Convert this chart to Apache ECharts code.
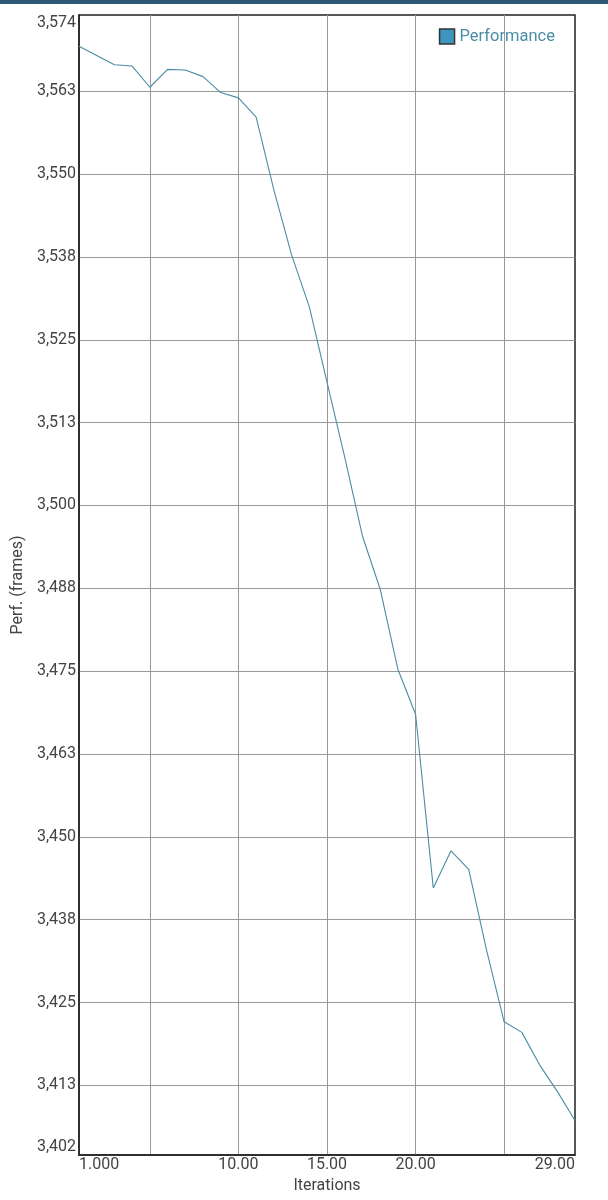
<!DOCTYPE html>
<html lang="en" style="height: 100%">
<head>
  <meta charset="utf-8">
  <style>
    body { margin: 0; background: #fff; }
  </style>
</head>
<body style="height: 100%; margin: 0">
  <div id="container" style="width: 608px; height: 1200px"></div>

  <script type="text/javascript" src="https://cdn.jsdelivr.net/npm/echarts@6/dist/echarts.min.js"></script>
  <script type="text/javascript">
    // values
    var iterations = [1, 2, 3, 4, 5, 6, 7, 8, 9, 10, 11, 12, 13, 14, 15, 16, 17, 18, 19, 20, 21, 22, 23, 24, 25, 26, 27, 28, 29];
    var performance = [3.5693, 3.5679, 3.5665, 3.5663, 3.5631, 3.5658, 3.5657, 3.5647, 3.5623, 3.5615,
      3.5586, 3.5476, 3.5378, 3.5300, 3.5186, 3.5073, 3.4954, 3.4874, 3.4753, 3.4685,
      3.4423, 3.4479, 3.4451, 3.4330, 3.4221, 3.4205, 3.4156, 3.4116, 3.4072];
    var yMin = 3.402, yMax = 3.574;
    var yGridValues = [3.4125, 3.425, 3.4375, 3.45, 3.4625, 3.475, 3.4875, 3.5, 3.5125, 3.525, 3.5375, 3.55, 3.5625];
    var yLabelValues = [3.402].concat(yGridValues, [3.574]);
    var xGridValues = [5, 10, 15, 20, 25];
    var xLabelValues = [1, 10, 15, 20, 29];

    var dom = document.getElementById('container');
    var myChart = echarts.init(dom, null, { renderer: 'canvas' });

    var font = 'Roboto, sans-serif';

    var option = {
      animation: false,
      backgroundColor: '#fff',
      graphic: [{
        type: 'rect',
        left: 0, top: 0,
        shape: { width: 608, height: 4 },
        style: { fill: '#2d5876' }
      }],
      grid: {
        left: 79, right: 33, top: 15, bottom: 45,
        show: true,
        borderColor: '#222',
        borderWidth: 1.5
      },
      legend: {
        right: 48, top: 23,
        icon: 'rect',
        itemWidth: 15, itemHeight: 15,
        itemGap: 6,
        itemStyle: { borderColor: '#333', borderWidth: 1.5 },
        textStyle: { color: '#4a8ea6', fontFamily: font, fontSize: 16.5 },
        data: ['Performance']
      },
      xAxis: {
        type: 'value',
        min: 1, max: 29,
        name: 'Iterations',
        nameLocation: 'middle',
        nameGap: 15,
        nameTextStyle: { color: '#444', fontFamily: font, fontSize: 16 },
        axisLine: { show: true, lineStyle: { color: '#222', width: 1.5 } },
        axisTick: { show: false, customValues: xGridValues },
        splitLine: { show: true, lineStyle: { color: '#999', width: 1 } },
        axisLabel: {
          customValues: xLabelValues,
          color: '#444', fontFamily: font, fontSize: 16,
          margin: 2,
          alignMinLabel: 'left',
          alignMaxLabel: 'right',
          formatter: function (v) { return Number(v).toPrecision(4); }
        }
      },
      yAxis: {
        type: 'value',
        min: yMin, max: yMax,
        name: 'Perf. (frames)',
        nameLocation: 'middle',
        nameGap: 52,
        nameTextStyle: { color: '#444', fontFamily: font, fontSize: 16 },
        axisLine: { show: true, lineStyle: { color: '#222', width: 1.5 } },
        axisTick: { show: false, customValues: yGridValues },
        splitLine: { show: true, lineStyle: { color: '#999', width: 1 } },
        axisLabel: {
          customValues: yLabelValues,
          color: '#444', fontFamily: font, fontSize: 16,
          margin: 3,
          verticalAlignMinLabel: 'bottom',
          verticalAlignMaxLabel: 'top',
          formatter: function (v) { return (Number(v) + 1e-9).toFixed(3).replace('.', ','); }
        }
      },
      series: [{
        name: 'Performance',
        type: 'line',
        showSymbol: false,
        symbol: 'none',
        color: '#3d96c0',
        lineStyle: { color: '#4a8ca6', width: 1.1 },
        data: iterations.map(function (x, i) { return [x, performance[i]]; })
      }]
    };

    myChart.setOption(option);
    window.addEventListener('resize', myChart.resize);
  </script>
</body>
</html>
